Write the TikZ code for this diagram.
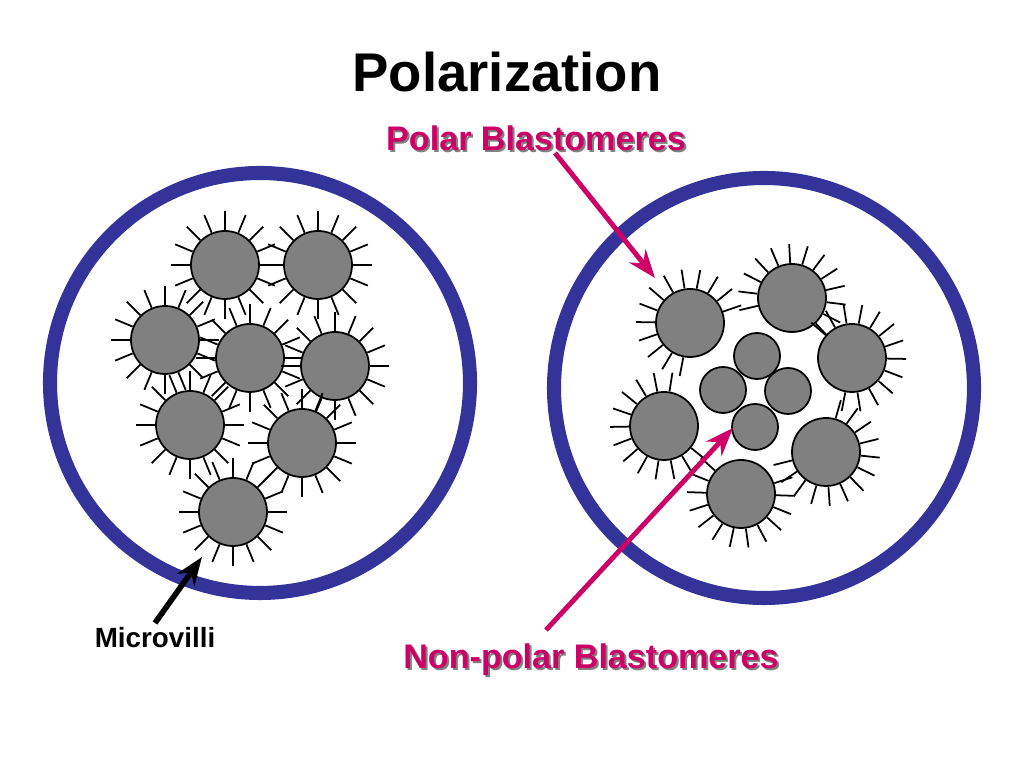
\documentclass[tikz,border=0pt]{standalone}
\usepackage{fontspec}
\setmainfont{Liberation Sans}
\usetikzlibrary{calc,arrows.meta}
\definecolor{ringblue}{HTML}{333399}
\definecolor{polarred}{HTML}{CC0066}
\tikzset{
  embryo/.style={draw=ringblue, line width=4pt},
  cellbox/.style={circle, draw=black, fill=gray, line width=0.5pt, inner sep=0pt},
  villus/.style={line width=0.5pt},
  pointer/.style={draw=polarred, line width=1.4pt, -{Stealth[length=8pt,width=6pt]}},
  shadowtext/.style={font=\bfseries\fontsize{9.7}{11}\selectfont, text=polarred},
}
% cell with microvilli all round
\newcommand{\blastcell}[3]{%
  \node[cellbox, minimum size=2*#3*0.01cm] (#1) at #2 {};
  \foreach \a in {0,22.5,...,340}
    \draw[villus] (#1.center) ++(\a:#3+1) -- ++(\a:19);
}
% cell with microvilli on the outer side, facing #4
\newcommand{\polarcell}[4]{%
  \node[cellbox, minimum size=2*#3*0.01cm] (#1) at #2 {};
  \foreach \a in {-120,-100,...,120}
    \draw[villus] (#1.center) ++(#4+\a:#3+1) -- ++(#4+\a:19);
}
\begin{document}
\begin{tikzpicture}[x=0.01cm,y=-0.01cm]
	\useasboundingbox (0,0) rectangle (1024,768);
	
	\node[font=\bfseries\fontsize{15.5}{17}\selectfont] (title) at (507,72) {Polarization};
	
	% left embryo
	\draw[embryo] (260,383) circle (210);
	\blastcell{l1}{(225,265)}{34}
	\blastcell{l2}{(318,265)}{34}
	\blastcell{l3}{(165,340)}{34}
	\blastcell{l4}{(250,358)}{34}
	\blastcell{l5}{(335,366)}{34}
	\blastcell{l6}{(190,425)}{34}
	\blastcell{l7}{(302,443)}{34}
	\blastcell{l8}{(233,512)}{34}
	
	% right embryo
	\draw[embryo] (764,388) circle (210);
	\polarcell{p1}{(690,323)}{34}{-139}
	\polarcell{p2}{(792,298)}{34}{-73}
	\polarcell{p3}{(852,358)}{34}{-19}
	\polarcell{p4}{(664,426)}{34}{159}
	\polarcell{p5}{(826,452)}{34}{46}
	\polarcell{p6}{(741,494)}{34}{102}
	\node[cellbox, minimum size=0.46cm] (n1) at (757,356) {};
	\node[cellbox, minimum size=0.46cm] (n2) at (723,390) {};
	\node[cellbox, minimum size=0.46cm] (n3) at (788,391) {};
	\node[cellbox, minimum size=0.46cm] (n4) at (755,427) {};
	
	% labels
	\node[shadowtext, text=gray] at (538,140) {Polar Blastomeres};
	\node[shadowtext] (polar) at (536,138) {Polar Blastomeres};
	\node[shadowtext, text=gray] at (593,662) {Non-polar Blastomeres};
	\node[shadowtext] (nonpolar) at (591,660) {Non-polar Blastomeres};
	\node[font=\bfseries\fontsize{7.9}{9}\selectfont] (villi) at (155,638) {Microvilli};
	
	\coordinate (pstart) at (555,153);
	\coordinate (pend) at (655,278);
	\coordinate (nstart) at (546,630);
	\coordinate (nend) at (733,428);
	\coordinate (vstart) at (155,623);
	\coordinate (vend) at (202,557);
	\draw[pointer] (pstart) -- (pend);
	\draw[pointer] (nstart) -- (nend);
	\draw[line width=1.6pt, -{Stealth[length=8pt,width=6pt]}] (vstart) -- (vend);
	
\end{tikzpicture}
\end{document}
